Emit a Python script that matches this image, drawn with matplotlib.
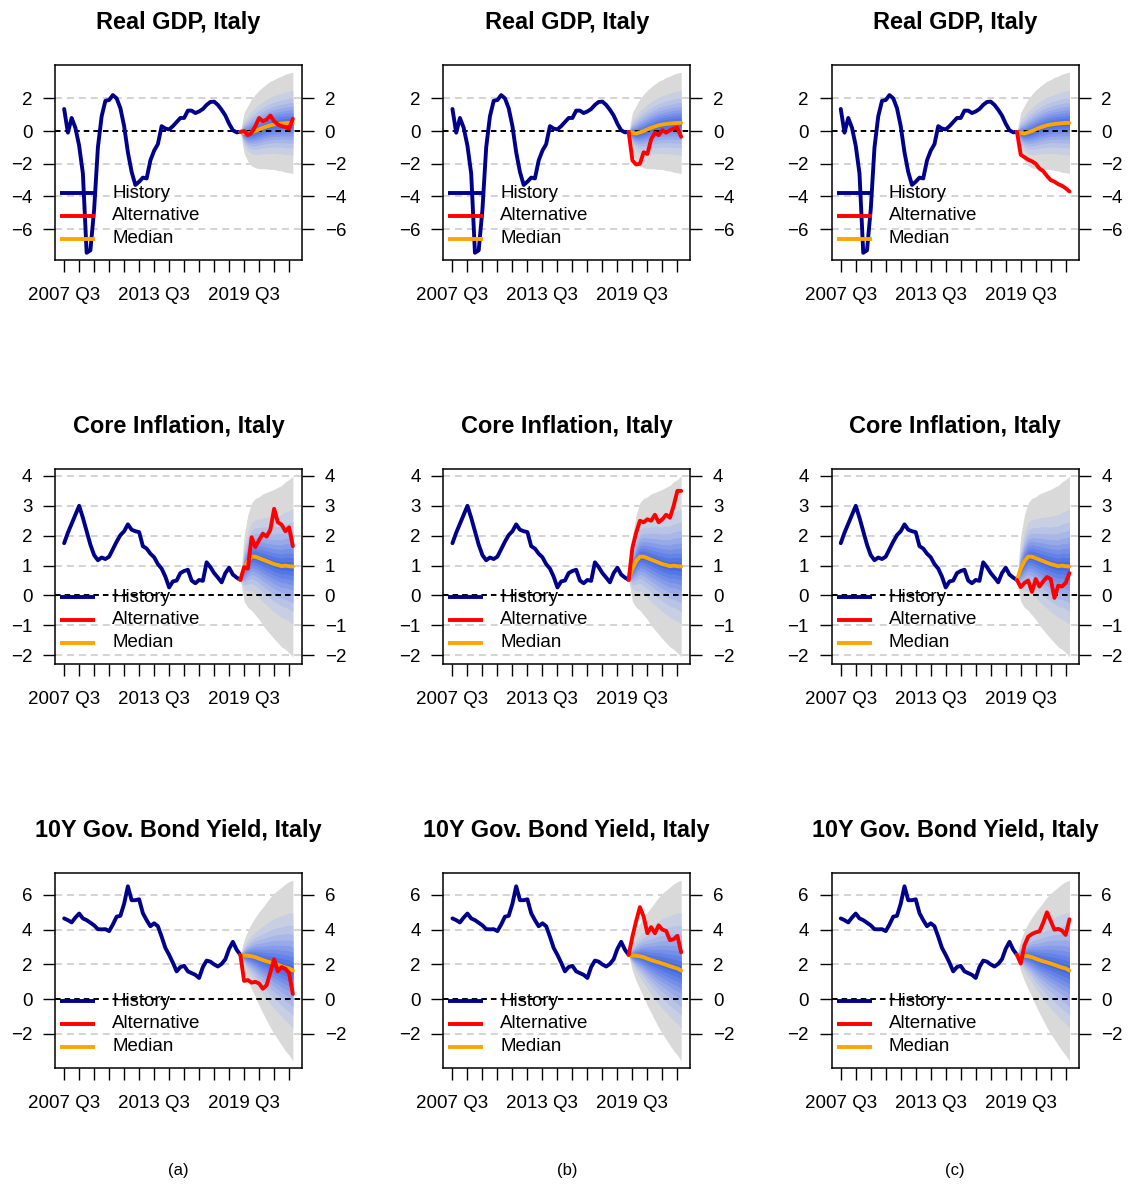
import numpy as np
import matplotlib
matplotlib.use("Agg")
import matplotlib.pyplot as plt
from statistics import NormalDist

plt.rcParams['font.family'] = ['Liberation Sans', 'DejaVu Sans']
plt.rcParams['lines.scale_dashes'] = False

# ---------------------------------------------------------------- data
# quarter index: 0 = 2007 Q3
hist_q = np.arange(48)          # 2007 Q3 .. 2019 Q2
fc_q = np.arange(47, 62)        # forecast path, anchored at last observation
tick_q = np.arange(0, 61, 4)
tick_text = {0: "2007 Q3", 24: "2013 Q3", 48: "2019 Q3"}

gdp_hist = [1.35, -0.1, 0.8, 0.2, -0.9, -2.6, -7.45, -7.3, -4.8, -1.0,
            0.9, 1.85, 1.9, 2.2, 2.0, 1.4, 0.3, -1.3, -2.5, -3.3,
            -3.1, -2.85, -2.9, -1.8, -1.2, -0.8, 0.3, 0.15, 0.1, 0.3,
            0.55, 0.8, 0.8, 1.25, 1.25, 1.1, 1.2, 1.35, 1.6, 1.78,
            1.8, 1.6, 1.3, 0.95, 0.45, 0.05, -0.08, -0.05]
gdp_median = [-0.05, -0.12, -0.15, -0.08, 0.0, 0.1, 0.2, 0.28, 0.35, 0.4,
              0.43, 0.46, 0.48, 0.5, 0.5]
gdp_spread = [0.0, 1.25, 1.7, 2.05, 2.25, 2.4, 2.5, 2.6, 2.7, 2.75,
              2.85, 2.9, 3.0, 3.05, 3.1]
gdp_alt_a = [-0.05, 0.0, -0.25, -0.1, 0.3, 0.8, 0.6, 0.7, 0.95, 0.6,
             0.4, 0.3, 0.25, 0.15, 0.75]
gdp_alt_b = [-0.05, -1.8, -2.05, -2.0, -1.3, -1.4, -0.5, -0.1, -0.25, 0.05,
             -0.1, 0.05, 0.15, 0.2, -0.35]
gdp_alt_c = [-0.05, -1.45, -1.6, -1.75, -1.85, -2.0, -2.3, -2.45, -2.75, -3.0,
             -3.1, -3.25, -3.35, -3.5, -3.7]

core_hist = [1.75, 2.1, 2.4, 2.7, 3.0, 2.6, 2.15, 1.7, 1.35, 1.18,
             1.27, 1.22, 1.3, 1.55, 1.8, 2.02, 2.15, 2.38, 2.2, 2.15,
             2.12, 1.65, 1.57, 1.4, 1.28, 1.05, 0.9, 0.63, 0.27, 0.47,
             0.5, 0.75, 0.82, 0.86, 0.5, 0.41, 0.52, 0.49, 1.11, 0.95,
             0.75, 0.6, 0.44, 0.75, 0.93, 0.7, 0.6, 0.52]
core_median = [0.52, 0.9, 1.15, 1.3, 1.3, 1.25, 1.2, 1.15, 1.1, 1.05,
               1.02, 0.98, 1.0, 0.98, 0.97]
core_spread = [0.0, 1.1, 1.55, 1.8, 1.95, 2.05, 2.2, 2.3, 2.4, 2.5,
               2.6, 2.7, 2.8, 2.9, 3.02]
core_alt_a = [0.52, 0.95, 0.9, 1.95, 1.62, 1.85, 2.07, 1.97, 2.2, 2.9,
              2.45, 2.37, 2.15, 2.28, 1.65]
core_alt_b = [0.52, 1.6, 2.1, 2.5, 2.45, 2.55, 2.5, 2.7, 2.45, 2.55,
              2.7, 2.6, 3.0, 3.5, 3.5]
core_alt_c = [0.52, 0.28, 0.42, 0.5, 0.12, 0.55, 0.3, 0.47, 0.62, 0.55,
              -0.08, 0.33, 0.3, 0.42, 0.75]

bond_hist = [4.65, 4.55, 4.42, 4.7, 4.93, 4.65, 4.55, 4.4, 4.25, 4.03,
             4.02, 4.03, 3.92, 4.3, 4.75, 4.8, 5.5, 6.5, 5.7, 5.7,
             5.75, 4.95, 4.55, 4.2, 4.37, 4.2, 3.6, 2.95, 2.55, 2.1,
             1.6, 1.85, 1.92, 1.6, 1.5, 1.4, 1.22, 1.85, 2.22, 2.16,
             2.0, 1.88, 2.03, 2.3, 2.9, 3.3, 2.85, 2.55]
bond_median = [2.55, 2.52, 2.5, 2.47, 2.42, 2.33, 2.25, 2.18, 2.12, 2.05,
               1.98, 1.9, 1.83, 1.77, 1.65]
bond_spread = [0.0, 0.9, 1.45, 1.9, 2.3, 2.7, 3.05, 3.4, 3.75, 4.05,
               4.3, 4.55, 4.8, 5.0, 5.2]
bond_alt_a = [2.55, 1.05, 1.1, 0.95, 1.0, 0.9, 0.6, 0.8, 1.55, 2.3,
              1.6, 1.85, 1.75, 1.5, 0.3]
bond_alt_b = [2.55, 3.6, 4.5, 5.3, 4.75, 3.8, 4.15, 3.8, 4.25, 4.0,
              3.93, 3.4, 3.45, 3.65, 2.7]
bond_alt_c = [2.55, 2.05, 3.1, 3.6, 3.75, 3.85, 3.9, 4.4, 5.0, 4.5,
              4.0, 4.05, 3.95, 3.7, 4.6]

titles = ["Real GDP, Italy", "Core Inflation, Italy", "10Y Gov. Bond Yield, Italy"]
yticks = [[-6, -4, -2, 0, 2], [-2, -1, 0, 1, 2, 3, 4], [-2, 0, 2, 4, 6]]
captions = ["(a)", "(b)", "(c)"]

rows = [
    (gdp_hist, gdp_median, gdp_spread, [gdp_alt_a, gdp_alt_b, gdp_alt_c]),
    (core_hist, core_median, core_spread, [core_alt_a, core_alt_b, core_alt_c]),
    (bond_hist, bond_median, bond_spread, [bond_alt_a, bond_alt_b, bond_alt_c]),
]

# fan bands: outer 99% interval, then 90%, 80%, ... 10%
fan_probs = [0.005, 0.05, 0.10, 0.15, 0.20, 0.25, 0.30, 0.35, 0.40, 0.45]
fan_colors = ["#D9D9D9", "#C9CFE3", "#B8C3E6", "#A8B6E8", "#97A9E9",
              "#869CE9", "#758FE8", "#6483E6", "#5376E4", "#4169E1"]

HIST_COL = "#00008B"
ALT_COL = "#FF0000"
MED_COL = "#FFA500"

# ---------------------------------------------------------------- layout
W, H, DPI = 1131, 1184, 100
fig = plt.figure(figsize=(W / DPI, H / DPI), dpi=DPI)

col_left = [55, 443.3, 831.6]
row_top = [65, 469, 873]
box_w, box_h = 247, 195
FS = 13.5
LW = 2.8

nd = NormalDist()
z_outer = nd.inv_cdf(1 - fan_probs[0])

for r, (hist, med, spread, alts) in enumerate(rows):
    hist = np.asarray(hist)
    med = np.asarray(med)
    spread = np.asarray(spread)
    # R-style ranges: data extent with 4% margins
    lo = min(hist.min(), (med - spread).min(), *(min(a) for a in alts))
    hi = max(hist.max(), (med + spread).max(), *(max(a) for a in alts))
    pad = 0.04 * (hi - lo)
    x_lo, x_hi = hist_q[0], fc_q[-1]
    xpad = 0.04 * (x_hi - x_lo)
    for c in range(3):
        ax = fig.add_axes([col_left[c] / W, 1 - (row_top[r] + box_h) / H,
                           box_w / W, box_h / H])
        ax.set_xlim(x_lo - xpad, x_hi + xpad)
        ax.set_ylim(lo - pad, hi + pad)

        for yv in yticks[r]:
            if yv != 0:
                ax.axhline(yv, color="#D3D3D3", lw=1.4,
                           linestyle=(0, (5.0, 3.6)), zorder=1)

        for k, p in enumerate(fan_probs):
            frac = nd.inv_cdf(1 - p) / z_outer
            ax.fill_between(fc_q, med - frac * spread, med + frac * spread,
                            color=fan_colors[k], lw=0, zorder=2)

        ax.axhline(0, color="black", lw=1.4, linestyle=(0, (4.0, 2.9)), zorder=3)

        ax.plot(hist_q, hist, color=HIST_COL, lw=LW, zorder=5,
                solid_joinstyle="round", solid_capstyle="round")
        ax.plot(fc_q, med, color=MED_COL, lw=LW, zorder=6,
                solid_joinstyle="round", solid_capstyle="round")
        ax.plot(fc_q, alts[c], color=ALT_COL, lw=LW, zorder=7,
                solid_joinstyle="round", solid_capstyle="round")

        # legend, bottom-left without frame
        for lab, col, yy in (("History", HIST_COL, 0.342),
                             ("Alternative", ALT_COL, 0.226),
                             ("Median", MED_COL, 0.11)):
            ax.plot([0.02, 0.162], [yy, yy], transform=ax.transAxes,
                    color=col, lw=LW, zorder=8, solid_capstyle="butt")
            ax.text(0.231, yy, lab, transform=ax.transAxes, fontsize=FS,
                    va="center", ha="left", zorder=8)

        ax.set_xticks(tick_q)
        ax.set_xticklabels([tick_text.get(int(q), "") for q in tick_q])
        ax.set_yticks(yticks[r])
        ax.tick_params(axis="both", direction="out", length=8.3, width=1.0,
                       labelsize=FS, color="black")
        ax.tick_params(axis="x", pad=11.5)
        ax.tick_params(axis="y", pad=8.0, left=True, right=True,
                       labelleft=True, labelright=True)
        for sp in ax.spines.values():
            sp.set_linewidth(1.1)

        fig.text((col_left[c] + box_w / 2) / W, 1 - (row_top[r] - 43) / H,
                 titles[r], ha="center", va="center", fontsize=16.9,
                 fontweight="bold")

for c in range(3):
    fig.text((col_left[c] + box_w / 2) / W, 1 - 1171 / H, captions[c],
             ha="center", va="center", fontsize=12)

fig.savefig("out.png", dpi=DPI, facecolor="white")
